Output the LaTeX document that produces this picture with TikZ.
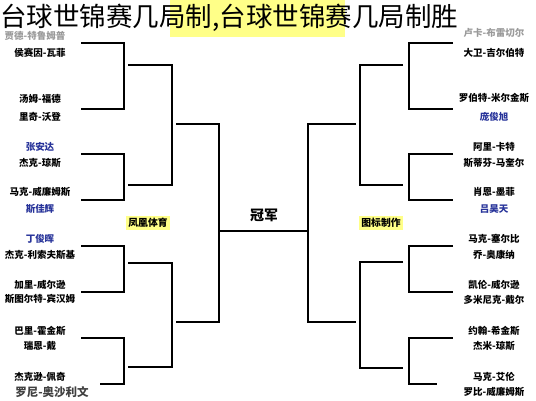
\documentclass[tikz,border=0pt]{standalone}
\usepackage{fontspec}
\newfontfamily\cjk{Noto Sans CJK SC}
\definecolor{pblue}{HTML}{27339A}
\definecolor{pgray}{HTML}{9A9A9A}
\definecolor{hl}{HTML}{FFFF88}
\tikzset{
  player/.style={font=\cjk\bfseries\fontsize{9.5}{10}\selectfont, inner sep=0pt, text=black},
  qualifier/.style={player, text=pblue},
  fadedp/.style={player, text=pgray},
  tagbox/.style={font=\cjk\bfseries\fontsize{9.8}{10}\selectfont, fill=hl, inner sep=2pt},
  link/.style={draw, line width=1.5pt, line join=miter},
}
\newcommand\brk[5]{%
  \coordinate (#5t) at (#1,#3);
  \coordinate (#5c) at (#2,#4);
  \coordinate (#5b) at (#1,#4);
  \draw[link] (#5t) -| (#5c) -- (#5b);}
\begin{document}
\begin{tikzpicture}[x=1pt,y=-1pt]
\useasboundingbox[fill=white] (0,0) rectangle (536,400);
% highlight behind title
\fill[hl] (170,0) rectangle (345,37);
% title
\node[anchor=west, inner sep=0pt, font=\cjk\fontsize{26.5}{28}\selectfont] (title) at (0,18) {台球世锦赛几局制,台球世锦赛几局制胜};
% left side players
\node[fadedp] (p1) at (35,36) {贾德-特鲁姆普};
\node[player] (p2) at (40,53) {侯赛因-瓦菲};
\node[player] (p3) at (40,99) {汤姆-福德};
\node[player] (p4) at (40,117) {里奇-沃登};
\node[qualifier] (p5) at (40,147) {张安达};
\node[player] (p6) at (40,163) {杰克-琼斯};
\node[player] (p7) at (40,192) {马克-威廉姆斯};
\node[qualifier] (p8) at (40,209) {斯佳辉};
\node[qualifier] (p9) at (40,239) {丁俊晖};
\node[player] (p10) at (40,255) {杰克-利索夫斯基};
\node[player] (p11) at (40,285) {加里-威尔逊};
\node[player] (p12) at (40,299) {斯图尔特-宾汉姆};
\node[player] (p13) at (40,331) {巴里-霍金斯};
\node[player] (p14) at (40,346) {瑞恩-戴};
\node[player] (p15) at (40,377) {杰克逊-佩奇};
\node[player, text=black!75, font=\cjk\bfseries\fontsize{11.5}{12}\selectfont] (p16) at (52,392) {罗尼-奥沙利文};
% right side players
\node[fadedp] (q1) at (494,33) {卢卡-布雷切尔};
\node[player] (q2) at (494,53) {大卫-吉尔伯特};
\node[player] (q3) at (494,98) {罗伯特-米尔金斯};
\node[qualifier] (q4) at (494,117) {庞俊旭};
\node[player] (q5) at (494,147) {阿里-卡特};
\node[player] (q6) at (494,163) {斯蒂芬-马奎尔};
\node[player] (q7) at (494,192) {肖恩-墨菲};
\node[qualifier] (q8) at (494,209) {吕昊天};
\node[player] (q9) at (494,239) {马克-塞尔比};
\node[player] (q10) at (494,255) {乔-奥康纳};
\node[player] (q11) at (494,285) {凯伦-威尔逊};
\node[player] (q12) at (494,300) {多米尼克-戴尔};
\node[player] (q13) at (494,331) {约翰-希金斯};
\node[player] (q14) at (494,346) {杰米-琼斯};
\node[player] (q15) at (494,377) {马克-艾伦};
\node[player] (q16) at (494,392) {罗比-威廉姆斯};
% tags
\node[tagbox] (tagl) at (148,223) {凤凰体育};
\node[tagbox] (tagr) at (381,223) {图标制作};
\node[font=\cjk\bfseries\fontsize{14}{15}\selectfont, inner sep=0pt] (champ) at (264,215) {冠军};
% left brackets
\brk{81}{124}{43}{109}{la}
\brk{81}{124}{154}{200}{lb}
\brk{81}{124}{246}{292}{lc}
\brk{100}{124}{338}{384}{ld}
\draw[link] (ldt) -- ++(-19,0);
\brk{128}{172}{65}{185}{lA}
\brk{128}{172}{263}{367}{lB}
\brk{176}{219}{124}{322}{lX}
% right brackets
\brk{453}{409}{43}{109}{ra}
\brk{453}{409}{154}{200}{rb}
\brk{453}{409}{246}{292}{rc}
\brk{437}{409}{338}{384}{rd}
\draw[link] (rdt) -- ++(16,0);
\brk{403}{360}{65}{185}{rA}
\brk{403}{360}{262}{368}{rB}
\brk{356}{308}{124}{322}{rX}
% final
\coordinate (fl) at (219,231);
\coordinate (fr) at (308,231);
\draw[link] (fl) -- (fr);
\end{tikzpicture}
\end{document}
